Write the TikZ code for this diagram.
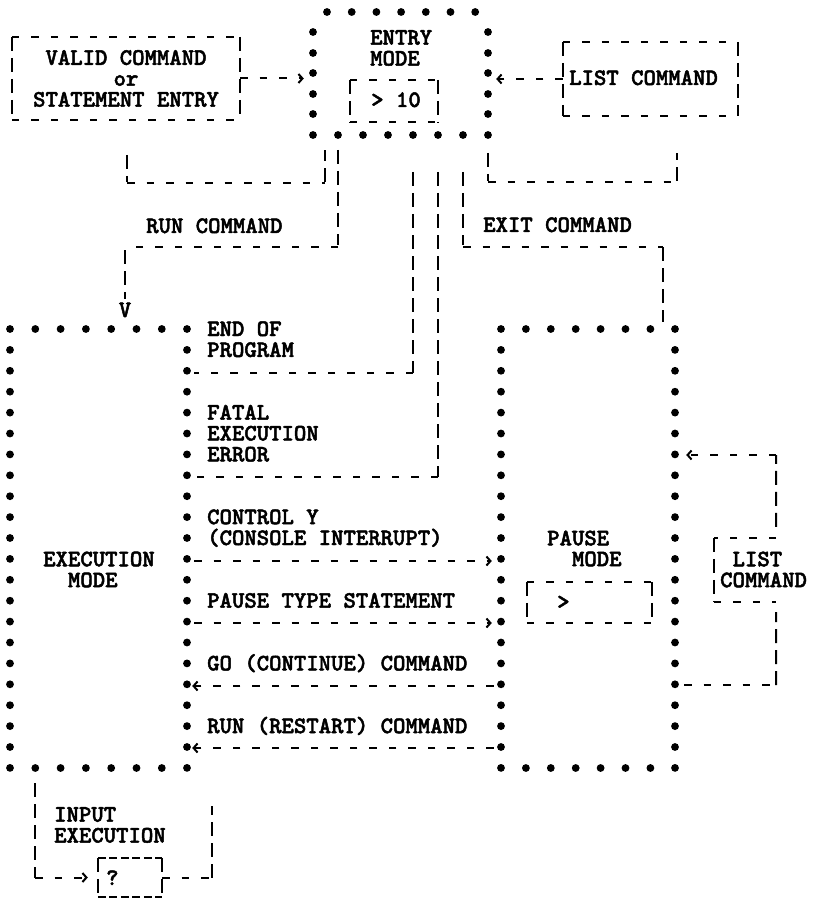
\documentclass[tikz,border=0pt]{standalone}
\usepackage{fontspec}
\newfontfamily\typew{lmmonolt10-bold.otf}[FakeBold=2]
\usetikzlibrary{arrows.meta}
\newcommand\dashsides[1]{%
  \draw[hl] (#1.north west) -- (#1.north east) (#1.south west) -- (#1.south east);
  \draw[vl] (#1.north west) -- (#1.south west) (#1.north east) -- (#1.south east);}
\begin{document}
\begin{tikzpicture}[x=1pt, y=-1pt,
    mono/.style={font=\typew\fontsize{23.6}{20.9}\selectfont},
    txt/.style={mono, inner sep=0pt, anchor=west, text height=14pt, text depth=0pt},
    mtxt/.style={mono, inner sep=0pt, anchor=west, align=left},
    area/.style={inner sep=0pt},
    hl/.style={line width=2pt, dash pattern=on 7.5pt off 12pt},
    vl/.style={line width=2pt, dash pattern=on 14pt off 7pt},
    tl/.style={line width=2pt, dash pattern=on 8pt off 3.5pt},
    arr/.style={-{Straight Barb[length=4pt, width=9pt]}}
  ]
  \useasboundingbox (0,0) rectangle (813,901);

  % dotted mode boxes
  \node[area, minimum width=175pt, minimum height=123pt] (entry) at (400.5,73.5) {};
  \node[area, minimum width=177pt, minimum height=439pt] (exec) at (98.5,548.5) {};
  \node[area, minimum width=174pt, minimum height=439pt] (pause) at (588,548.5) {};
  \foreach \k in {0,...,6} \fill ({327+24.7*\k},12) circle (3.9pt);
  \foreach \y in {32,53,73,94,114} {
    \fill (313,\y) circle (3.9pt);
    \fill (488,\y) circle (3.9pt);
  }
  \foreach \k in {0,...,7} \fill ({313+25*\k},135) circle (3.9pt);
  \foreach \r in {0,...,21} {
    \fill (10,{329+20.9*\r}) circle (3.9pt);
    \fill (187,{329+20.9*\r}) circle (3.9pt);
    \fill (501,{329+20.9*\r}) circle (3.9pt);
    \fill (675,{329+20.9*\r}) circle (3.9pt);
  }
  \foreach \k in {1,...,6} {
    \fill ({10+25.3*\k},329) circle (3.9pt);
    \fill ({10+25.3*\k},768) circle (3.9pt);
    \fill ({501+24.9*\k},329) circle (3.9pt);
    \fill ({501+24.9*\k},768) circle (3.9pt);
  }

  % mode labels
  \node[mtxt] (entryT) at (370,48) {ENTRY\\MODE};
  \node[mtxt] (execT) at (43,569.5) {EXECUTION\\\phantom{XX}MODE};
  \node[mtxt] (pauseT) at (547,548.5) {PAUSE\\\phantom{XX}MODE};

  % dashed boxes
  \node[area, mono, align=center, minimum width=228pt, minimum height=83pt] (valid) at (126,78.5)
    {VALID COMMAND\\or\\STATEMENT ENTRY};
  \dashsides{valid}
  \node[area, minimum width=175pt, minimum height=74pt] (list) at (650.5,79) {};
  \dashsides{list}
  \node[txt] (listT) at (569,78) {LIST COMMAND};
  \node[area, minimum width=88pt, minimum height=42pt] (prompt) at (394,101) {};
  \dashsides{prompt}
  \node[txt] (promptT) at (371,100) {> 10};
  \node[area, minimum width=125pt, minimum height=41pt] (pbox) at (589.5,602.5) {};
  \dashsides{pbox}
  \node[txt] (pboxT) at (557,602) {>};
  \node[area, minimum width=62pt, minimum height=64pt] (listc) at (745,570) {};
  \draw[hl] (listc.north east) -- (listc.north west) (listc.south west) -- (listc.south east);
  \draw[vl] (listc.north west) -- (listc.south west);
  \node[mtxt] (listcT) at (720,569.5) {\phantom{X}LIST\\COMMAND};
  \node[area, minimum width=64pt, minimum height=39pt] (qbox) at (130,877.5) {};
  \draw[tl] (qbox.north west) -- (qbox.north east) (qbox.south west) -- (qbox.south east);
  \draw[vl] (qbox.north west) -- (qbox.south west) (qbox.north east) -- (qbox.south east);
  \node[txt] (qT) at (106,878) {?};
  \node[mtxt] (inputT) at (54,825) {INPUT\\EXECUTION};

  % exits out of execution mode
  \foreach \r/\t in {0/END OF, 1/PROGRAM, 4/FATAL, 5/EXECUTION, 6/ERROR,
      9/CONTROL Y, 10/(CONSOLE INTERRUPT), 13/PAUSE TYPE STATEMENT,
      16/GO (CONTINUE) COMMAND, 19/RUN (RESTART) COMMAND}
    \node[txt] (e\r) at (207,{329+20.9*\r}) {\t};
  \node[txt] (runT) at (146,226) {RUN COMMAND};
  \node[txt] (exitT) at (483,225) {EXIT COMMAND};
  \node[mono, inner sep=0pt] (runv) at (125,310) {V};

  \coordinate (r2) at (0,373);
  \coordinate (r7) at (0,477);
  \coordinate (r11) at (0,561);
  \coordinate (r14) at (0,623);
  \coordinate (r17) at (0,686);
  \coordinate (r20) at (0,748);

  % entry mode links
  \draw[hl, arr, shorten >=9pt] (valid.east) -- (valid.east -| entry.west);
  \draw[hl, arr, shorten >=8pt] (list.west) -- (list.west -| entry.east);
  \coordinate (va) at (127,155);
  \coordinate (vd) at (325,150);
  \draw[vl] (va) -- (va |- 0,182);
  \draw[hl] (va |- 0,183) -- (vd |- 0,183);
  \draw[vl] (vd |- 0,182) -- (vd);
  \coordinate (la) at (488,153);
  \coordinate (ld) at (677,153);
  \draw[vl] (la) -- (la |- 0,181);
  \draw[hl] (la |- 0,182) -- (ld |- 0,182);
  \draw[vl] (ld |- 0,181) -- (ld);

  % run command
  \coordinate (runtop) at (338,150);
  \draw[vl] (runtop) -- (runtop |- 0,245);
  \draw[hl] (runtop |- 0,247) -- (runv |- 0,247);
  \draw[vl, shorten >=3pt] (runv |- 0,250) -- (runv.north);

  % back to entry mode
  \coordinate (eop) at (413,172);
  \draw[vl] (eop) -- (eop |- r2);
  \draw[hl, shorten >=7pt] (eop |- r2) -- (exec.east |- r2);
  \coordinate (fat) at (438,172);
  \draw[vl] (fat) -- (fat |- r7);
  \draw[hl, shorten >=7pt] (fat |- r7) -- (exec.east |- r7);
  \coordinate (exit) at (463,172);
  \coordinate (exitc) at (663,247);
  \draw[vl] (exit) -- (exit |- 0,245);
  \draw[hl] (exit |- exitc) -- (exitc);
  \draw[vl, shorten >=7pt] (exitc) -- (exitc |- pause.north);

  % execution <-> pause
  \draw[hl, arr, shorten <=7pt, shorten >=9pt] (exec.east |- r11) -- (pause.west |- r11);
  \draw[hl, arr, shorten <=7pt, shorten >=9pt] (exec.east |- r14) -- (pause.west |- r14);
  \draw[hl, arr, shorten <=7pt, shorten >=5pt] (pause.west |- r17) -- (exec.east |- r17);
  \draw[hl, arr, shorten <=7pt, shorten >=5pt] (pause.west |- r20) -- (exec.east |- r20);

  % list command in pause mode
  \coordinate (lt) at (776,455);
  \coordinate (lb) at (776,685);
  \draw[vl, shorten <=11pt] (listc.north east) -- (lt);
  \draw[hl, arr, shorten >=11pt] (lt) -- (lt -| pause.east);
  \draw[hl, shorten <=9pt] (lb -| pause.east) -- (lb);
  \draw[vl, shorten >=10pt] (lb) -- (listc.south east);

  % input execution
  \coordinate (ia) at (35,783);
  \coordinate (ib) at (212,806);
  \draw[vl] (ia) -- (ia |- qbox);
  \draw[hl, arr, shorten >=10pt] (ia |- qbox) -- (qbox.west);
  \draw[hl] (qbox.east) -- (ib |- qbox);
  \draw[vl] (ib |- qbox) -- (ib);
\end{tikzpicture}
\end{document}
